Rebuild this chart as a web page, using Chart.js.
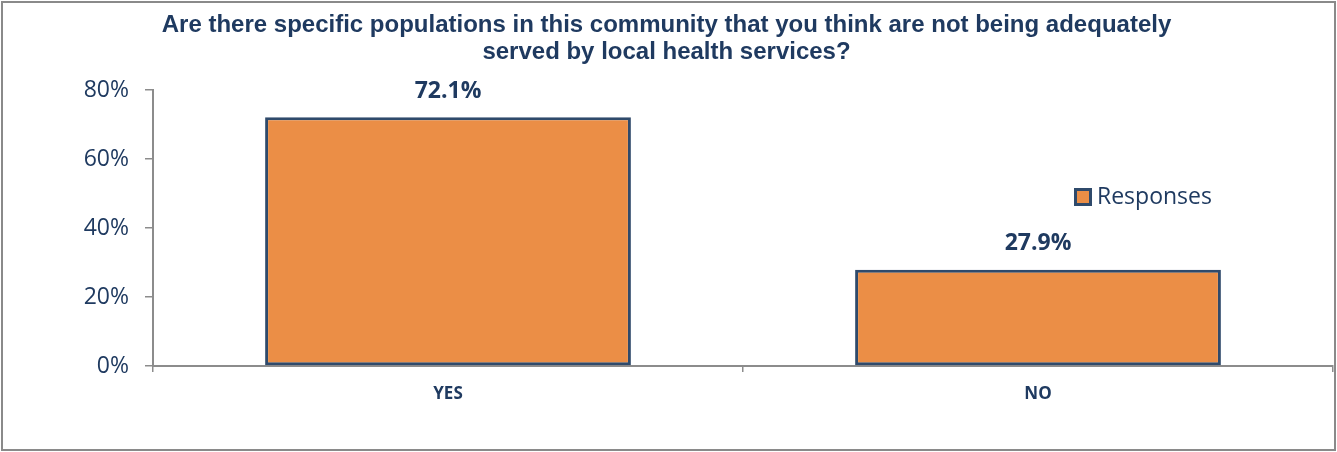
<!DOCTYPE html>
<html>
<head>
<meta charset="utf-8">
<title>Populations not adequately served</title>
<script src="https://cdn.jsdelivr.net/npm/chart.js@4.4.1/dist/chart.umd.min.js"></script>
<style>
    html, body { margin: 0; padding: 0; background: #fff; }
    #wrap { width: 1337px; height: 452px; }
</style>
</head>
<body>
<div id="wrap"><canvas id="chart" width="1337" height="452"></canvas></div>
<script>
const categories = ["YES", "NO"];
const responses = [72.1, 27.9];
const yTicks = [0, 20, 40, 60, 80];
const seriesName = "Responses";
const titleLines = [
    "Are there specific populations in this community that you think are not being adequately",
    "served by local health services?"
];

const navy = "#1F3A60";
const barFill = "#EB8E46";
const barEdge = "#2F4A6B";
const axisGray = "#8C8C8C";
const bodyFont = "'Open Sans', 'Noto Sans', sans-serif";

// marco gris alrededor de todo el gráfico
const framePlugin = {
    id: "frame",
    beforeDraw(chart) {
        const ctx = chart.ctx;
        ctx.save();
        ctx.fillStyle = "#fff";
        ctx.fillRect(0, 0, chart.width, chart.height);
        ctx.strokeStyle = "#8A8A8A";
        ctx.lineWidth = 2;
        ctx.strokeRect(2, 2, 1333, 448);
        ctx.restore();
    }
};

// porcentaje encima de cada barra
const valueLabels = {
    id: "valueLabels",
    afterDatasetsDraw(chart) {
        const ctx = chart.ctx;
        const meta = chart.getDatasetMeta(0);
        ctx.save();
        ctx.fillStyle = navy;
        ctx.font = "bold 23px " + bodyFont;
        ctx.textAlign = "center";
        ctx.textBaseline = "middle";
        meta.data.forEach((bar, i) => {
            ctx.fillText(responses[i].toFixed(1) + "%", bar.x, bar.y - 26);
        });
        ctx.restore();
    }
};

// leyenda dentro del área del gráfico, a la derecha
const insideLegend = {
    id: "insideLegend",
    afterDraw(chart) {
        const ctx = chart.ctx;
        const x = 1074, y = 197;
        ctx.save();
        ctx.fillStyle = barFill;
        ctx.strokeStyle = barEdge;
        ctx.lineWidth = 3;
        ctx.fillRect(x + 1.5, y - 7.5, 15, 15);
        ctx.strokeRect(x + 1.5, y - 7.5, 15, 15);
        ctx.fillStyle = navy;
        ctx.font = "23px " + bodyFont;
        ctx.textAlign = "left";
        ctx.textBaseline = "middle";
        ctx.fillText(chart.data.datasets[0].label, x + 23, y);
        ctx.restore();
    }
};

const ctx = document.getElementById("chart").getContext("2d");
const chart = new Chart(ctx, {
    type: "bar",
    data: {
        labels: categories,
        datasets: [{
            label: seriesName,
            data: responses,
            backgroundColor: barFill,
            borderColor: barEdge,
            borderWidth: 3,
            borderSkipped: false,
            categoryPercentage: 1,
            barPercentage: 0.62
        }]
    },
    options: {
        responsive: false,
        animation: false,
        layout: { padding: { top: 0, left: 0, right: 4, bottom: 0 } },
        plugins: {
            legend: { display: false },
            tooltip: { enabled: false },
            title: {
                display: true,
                text: titleLines,
                color: navy,
                font: { family: "'Liberation Sans', Arial, sans-serif", size: 24, weight: "bold", lineHeight: 1.125 },
                padding: { top: 12, bottom: 24 }
            }
        },
        scales: {
            x: {
                grid: {
                    offset: true,
                    drawOnChartArea: false,
                    drawTicks: true,
                    tickLength: 6,
                    color: axisGray,
                    lineWidth: 1.5
                },
                border: { color: axisGray, width: 2 },
                ticks: {
                    color: navy,
                    padding: 12,
                    font: { family: bodyFont, size: 17, weight: "bold" }
                },
                afterFit(scale) { scale.height = 86; }
            },
            y: {
                min: 0,
                max: 80,
                afterBuildTicks(scale) {
                    scale.ticks = yTicks.map(v => ({ value: v }));
                },
                grid: {
                    drawOnChartArea: false,
                    drawTicks: true,
                    tickLength: 8,
                    color: axisGray,
                    lineWidth: 1.5
                },
                border: { color: axisGray, width: 2 },
                ticks: {
                    color: navy,
                    padding: 16,
                    font: { family: bodyFont, size: 23 },
                    callback: v => v + "%"
                },
                afterFit(scale) { scale.width = 153; }
            }
        }
    },
    plugins: [framePlugin, valueLabels, insideLegend]
});
</script>
</body>
</html>
